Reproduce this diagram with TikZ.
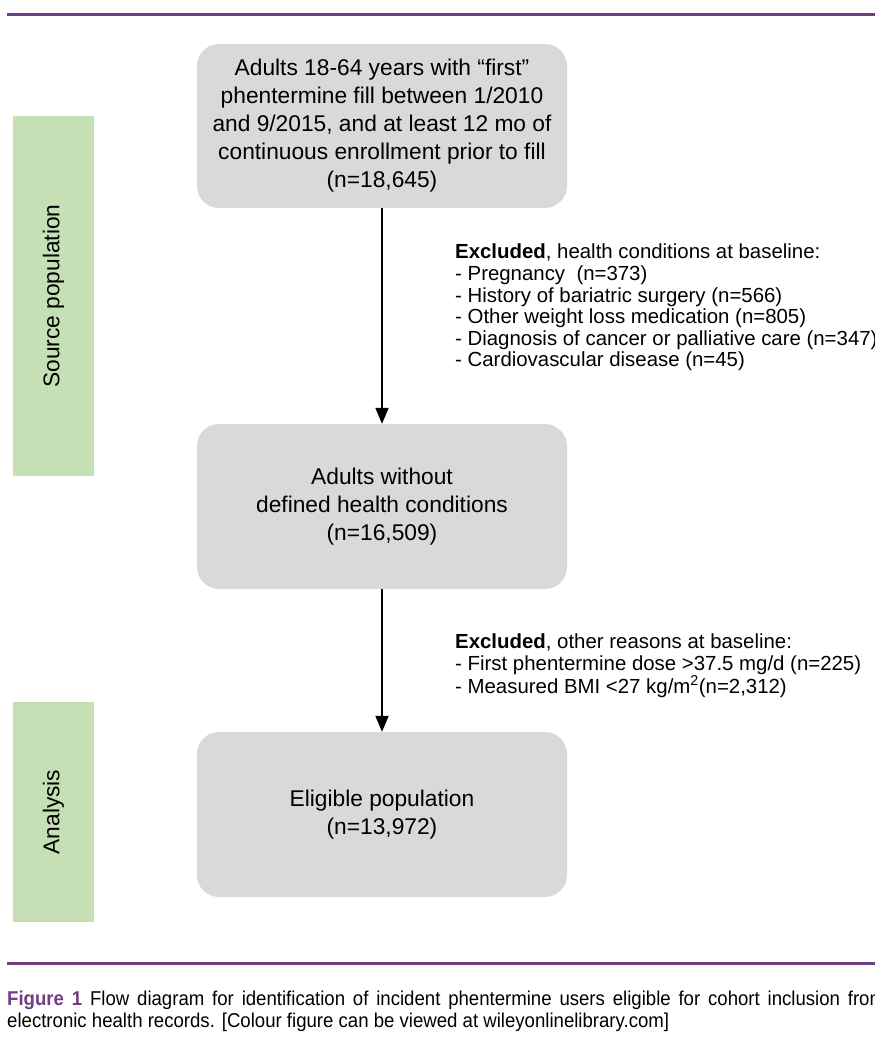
\documentclass[tikz,border=0pt]{standalone}
\usepackage{fontspec}
\setmainfont{Liberation Sans}
\newfontfamily\capfont[FakeStretch=0.93]{Liberation Sans}
\usetikzlibrary{arrows.meta}
\definecolor{purp}{RGB}{112,62,130}
\definecolor{boxgrey}{RGB}{217,217,217}
\definecolor{bargreen}{RGB}{197,224,180}
\begin{document}
\begin{tikzpicture}[x=1pt,y=-1pt,
  flowbox/.style={fill=boxgrey, rounded corners=22pt, minimum width=370pt, minimum height=165pt,
    align=center, inner sep=0pt, font=\fontsize{22.75}{28}\selectfont},
  sidebar/.style={fill=bargreen, rotate=90, minimum height=81pt, inner sep=0pt,
    font=\fontsize{22.75}{28}\selectfont},
  excl/.style={anchor=north west, align=left, inner sep=0pt, font=\fontsize{20.4}{21.6}\selectfont},
  flow/.style={-{Triangle[length=16pt,width=13pt]}, line width=2pt},
  rulebar/.style={draw=purp, line width=3pt},
  captext/.style={anchor=base west, inner sep=0pt, font=\capfont\fontsize{20}{22}\selectfont}
]
\useasboundingbox (0,0) rectangle (875,1045);
\clip (0,0) rectangle (875,1045);

\coordinate (t1) at (7,14);
\coordinate (t2) at (880,14);
\coordinate (b1) at (7,963);
\coordinate (b2) at (880,963);
\draw[rulebar] (t1) -- (t2);
\draw[rulebar] (b1) -- (b2);

\node[sidebar, minimum width=360pt] (barA) at (53.5,296) {Source population};
\node[sidebar, minimum width=220pt] (barB) at (53.5,812) {Analysis};

\node[flowbox, minimum height=164pt] (src) at (382,126)
  {Adults 18-64 years with “first”\\phentermine fill between 1/2010\\and 9/2015, and at least 12 mo of\\continuous enrollment prior to fill\\(n=18,645)};
\node[flowbox] (mid) at (382,506.5) {Adults without\\defined health conditions\\(n=16,509)};
\node[flowbox] (elig) at (382,814.5) {Eligible population\\(n=13,972)};

\draw[flow] (src) -- (mid);
\draw[flow] (mid) -- (elig);

\node[excl] (ex1) at (455,244) {\textbf{Excluded}, health conditions at baseline:\\
- Pregnancy\ \ (n=373)\\
- History of bariatric surgery (n=566)\\
- Other weight loss medication (n=805)\\
- Diagnosis of cancer or palliative care (n=347)\\
- Cardiovascular disease (n=45)};

\node[excl] (ex2) at (455,634) {\textbf{Excluded}, other reasons at baseline:\\
- First phentermine dose >37.5 mg/d (n=225)\\
- Measured BMI <27 kg/m\textsuperscript{2}(n=2,312)};

\node[captext] (cap1) at (7,1005) {\makebox[878pt][s]{\textcolor{purp}{\bfseries Figure 1} Flow diagram for identification of incident phentermine users eligible for cohort inclusion from}};
\node[captext] (cap2) at (7,1027) {electronic health records. [Colour figure can be viewed at wileyonlinelibrary.com]};
\end{tikzpicture}
\end{document}
